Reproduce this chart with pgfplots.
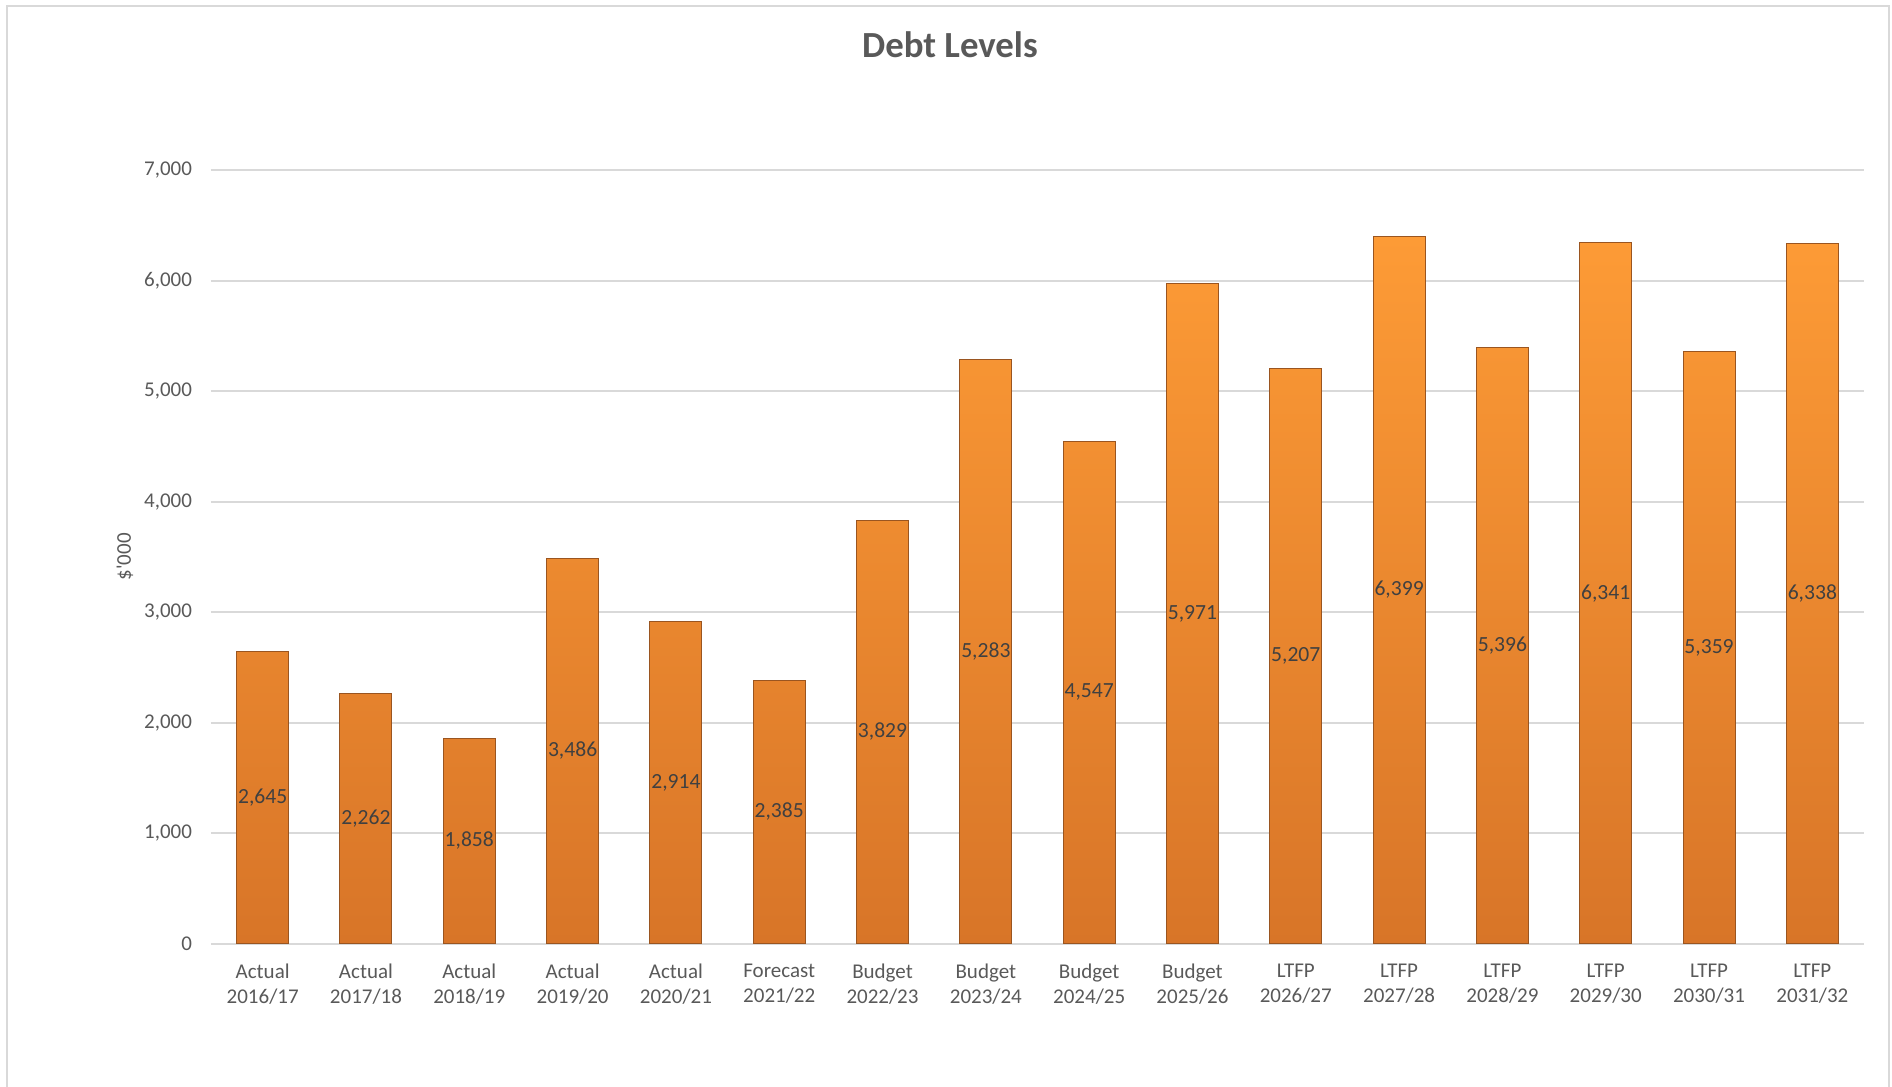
\documentclass[border=0pt]{standalone}
\usepackage{fontspec}
\setmainfont{Carlito}
\usepackage{pgfplots}
\pgfplotsset{compat=1.18}
\definecolor{txt}{HTML}{595959}
\definecolor{lbl}{HTML}{404040}
\definecolor{gridc}{HTML}{D9D9D9}
\definecolor{bartop}{HTML}{FD9B36}
\definecolor{barbot}{HTML}{D87528}
\definecolor{baredge}{HTML}{9A5520}
\pgfkeys{/pgf/number format/.cd, assume math mode=true, 1000 sep={,}}
\begin{document}
\begin{tikzpicture}
\useasboundingbox (-105.5pt,-71.7pt) rectangle (840.5pt,471.8pt);
\draw[gridc, line width=1pt] (-102pt,-80pt) -- (-102pt,468.8pt) -- (839pt,468.8pt) -- (839pt,-80pt);
\begin{axis}[
  scale only axis, width=826.5pt, height=386.75pt,
  ybar, bar width=26pt,
  xmin=-0.5, xmax=15.5, ymin=0, ymax=7000,
  xtick=data,
  xticklabels={{Actual\\2016/17},{Actual\\2017/18},{Actual\\2018/19},{Actual\\2019/20},{Actual\\2020/21},{Forecast\\2021/22},{Budget\\2022/23},{Budget\\2023/24},{Budget\\2024/25},{Budget\\2025/26},{LTFP\\2026/27},{LTFP\\2027/28},{LTFP\\2028/29},{LTFP\\2029/30},{LTFP\\2030/31},{LTFP\\2031/32}},
  xticklabel style={align=center},
  ytick={0,1000,...,7000},
  ymajorgrids, grid style={gridc, line width=1pt},
  axis x line*=bottom, axis y line*=left,
  y axis line style={draw=none},
  x axis line style={gridc, line width=1pt},
  major tick length=0pt,
  tick label style={font=\fontsize{10.5}{12.6}\selectfont, text=txt},
  xticklabel shift=6.5pt,
  yticklabel shift=6pt,
  ylabel={\$\textquotesingle000},
  ylabel style={at={(axis description cs:-0.052,0.5)}, anchor=center, font=\fontsize{10.5}{12.5}\selectfont, text=txt},
  title={Debt Levels},
  title style={at={(axis description cs:0.447,1)}, anchor=base, yshift=50.5pt, font=\fontsize{18.4}{21}\selectfont\bfseries, text=txt},
  nodes near coords,
  visualization depends on={value \thisrow{y}\as\rawy},
  every node near coord/.append style={anchor=center, yshift={-0.027625*\rawy}, font=\fontsize{10.8}{12.5}\selectfont, text=lbl},
]
\addplot[top color=bartop, bottom color=barbot, draw=baredge, line width=0.5pt] table {
x y
0 2645
1 2262
2 1858
3 3486
4 2914
5 2385
6 3829
7 5283
8 4547
9 5971
10 5207
11 6399
12 5396
13 6341
14 5359
15 6338
};
\end{axis}
\end{tikzpicture}
\end{document}
